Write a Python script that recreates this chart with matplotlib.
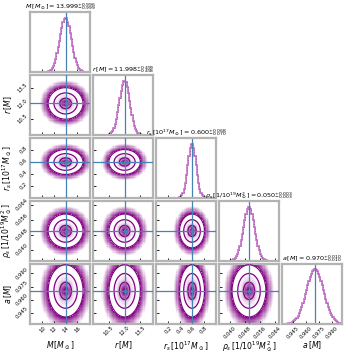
import numpy as np
import matplotlib.pyplot as plt
from matplotlib.colors import LinearSegmentedColormap

# parameters of the corner plot
labels = [r"$M\,[M_\odot]$", r"$r\,[M]$", r"$r_s\,[10^{17}M_\odot]$",
          r"$\rho_s\,[1/10^{19}M_\odot^2]$", r"$a\,[M]$"]
medians = [13.999, 11.998, 0.600, 0.050, 0.970]
err_hi = [0.996, 0.499, 0.068, 0.003, 0.010]
err_lo = [0.999, 0.498, 0.070, 0.003, 0.010]
truths = [14.0, 12.0, 0.6, 0.05, 0.97]
ranges = [(7.9, 18.2), (9.0, 14.7), (0.0, 1.0), (0.034, 0.066), (0.932, 1.001)]
ticks = [[10, 12, 14, 16], [10.5, 12.0, 13.5], [0.2, 0.4, 0.6, 0.8],
         [0.040, 0.048, 0.056, 0.064], [0.945, 0.960, 0.975, 0.990]]
tick_labels = [["10", "12", "14", "16"], ["10.5", "12.0", "13.5"],
               ["0.2", "0.4", "0.6", "0.8"],
               ["0.040", "0.048", "0.056", "0.064"],
               ["0.945", "0.960", "0.975", "0.990"]]
sigma_levels = [1.0, 2.0, 3.0]

color = "purple"
hist_color = "#c77dcc"
truth_color = "#4682b4"
spine_color = "#b3b3b3"

n = len(labels)
nbins = 50

pts_cmap = LinearSegmentedColormap.from_list("pts", [(0.5, 0, 0.5, 0), (0.5, 0, 0.5, 1)])
dens_cmap = LinearSegmentedColormap.from_list("dens", [(1, 1, 1, 0), (0.5, 0, 0.5, 1)])

fig, axes = plt.subplots(n, n, figsize=(3.54, 3.54), dpi=100)
fig.subplots_adjust(left=0.085, right=0.966, bottom=0.085, top=0.966,
                    wspace=0.05, hspace=0.05)

sig = [(h + l) / 2 for h, l in zip(err_hi, err_lo)]


def style(ax):
    for s in ax.spines.values():
        s.set_color(spine_color)
        s.set_linewidth(1.6)
    ax.tick_params(direction="in", length=2, width=0.6, labelsize=3.8, pad=1)


for i in range(n):
    for j in range(n):
        ax = axes[i, j]
        if j > i:
            ax.set_visible(False)
            continue
        style(ax)
        xe = np.linspace(*ranges[j], nbins + 1)
        xc = 0.5 * (xe[1:] + xe[:-1])
        if i == j:
            h = np.exp(-0.5 * ((xc - medians[j]) / sig[j]) ** 2)
            ax.stairs(h, xe, color=hist_color, lw=1.3)
            ax.stairs(h, xe, color="#8a2f90", lw=0.5, ls=(0, (1, 3)))
            ax.axvline(truths[j], color=truth_color, lw=0.9)
            ax.set_ylim(0, 1.1)
            ax.set_yticks([])
            ax.set_title(labels[j] + r"$ = %.3f^{+%.3f}_{-%.3f}$" % (medians[j], err_hi[j], err_lo[j]),
                         fontsize=4.6, pad=1.5)
        else:
            ye = np.linspace(*ranges[i], nbins + 1)
            yc = 0.5 * (ye[1:] + ye[:-1])
            X, Y = np.meshgrid(xc, yc)
            r = np.sqrt(((X - medians[j]) / sig[j]) ** 2 + ((Y - medians[i]) / sig[i]) ** 2)
            H = np.exp(-0.5 * r ** 2)
            pts = np.clip((4.5 - r) / 1.5, 0, 1) ** 1.1
            ax.pcolormesh(xe, ye, pts, cmap=pts_cmap, vmin=0, vmax=1, zorder=0)
            lv = sorted(np.exp(-0.5 * np.array(sigma_levels) ** 2))
            ax.contourf(X, Y, H, [lv[0], H.max()], colors="white", zorder=1)
            ax.pcolormesh(xe, ye, H, cmap=dens_cmap, vmin=0, vmax=H.max(), zorder=2)
            ax.contour(X, Y, H, lv, colors=color, linewidths=0.9, zorder=3)
            ax.axvline(truths[j], color=truth_color, lw=0.9, zorder=4)
            ax.axhline(truths[i], color=truth_color, lw=0.9, zorder=4)
            ax.plot(truths[j], truths[i], "s", color=truth_color, ms=2, zorder=5)
            ax.set_ylim(*ranges[i])
            ax.set_yticks(ticks[i])
            if j == 0:
                ax.set_yticklabels(tick_labels[i], rotation=45, va="center")
                ax.set_ylabel(labels[i], fontsize=5.6)
                ax.yaxis.set_label_coords(-0.27, 0.5)
            else:
                ax.set_yticklabels([])
        ax.set_xlim(*ranges[j])
        ax.set_xticks(ticks[j])
        if i == n - 1:
            ax.set_xticklabels(tick_labels[j], rotation=45, ha="center")
            ax.set_xlabel(labels[j], fontsize=5.6)
            ax.xaxis.set_label_coords(0.5, -0.26)
        else:
            ax.set_xticklabels([])

fig.savefig("out.png", dpi=100)
